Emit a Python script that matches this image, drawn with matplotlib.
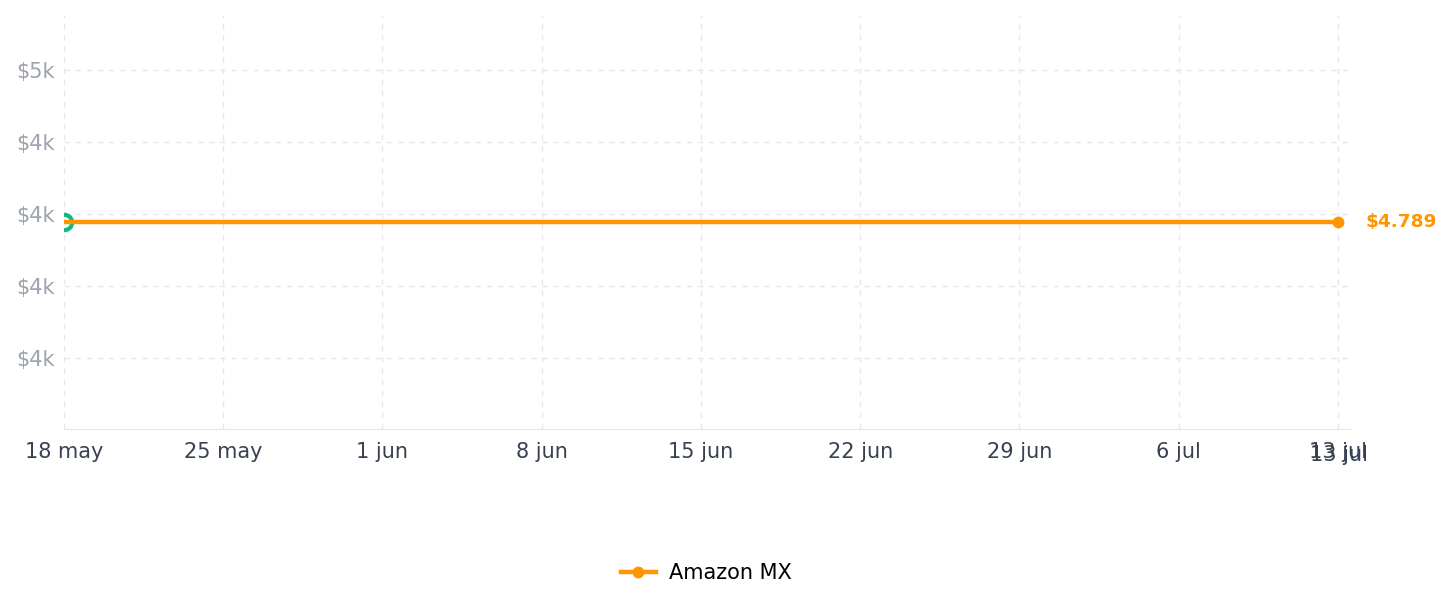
import matplotlib.pyplot as plt
import matplotlib.dates as mdates
import numpy as np
import pandas as pd

# price history (flat)
dates = pd.to_datetime(["2025-05-18", "2025-07-13"])
prices = [4789, 4789]
series_name = "Amazon MX"
tick_dates = pd.date_range("2025-05-18", "2025-07-13", freq="7D")
y_ticks = [4600, 4700, 4800, 4900, 5000]
months_es = {5: "may", 6: "jun", 7: "jul"}

orange = "#ff9500"
green = "#10b981"
grid_c = "#e5e7eb"

fig = plt.figure(figsize=(14.52, 6.07), dpi=100)
ax = fig.add_axes([64 / 1452, 1 - 429 / 607, (1350 - 64) / 1452, (429 - 15) / 607])

x = mdates.date2num(dates)
ax.plot(x, prices, color=orange, lw=3.2, zorder=3, solid_capstyle="butt", label=series_name)
ax.plot(x[-1], prices[-1], "o", color=orange, markersize=7.5, zorder=4, clip_on=False)
ax.plot(x[0], prices[0], "o", markerfacecolor="white", markeredgecolor=green,
        markersize=11, markeredgewidth=3, zorder=2)

ax.annotate(f"${prices[-1] / 1000:.3f}", (x[-1], prices[-1]), xytext=(20, 0),
            textcoords="offset points", color=orange, fontsize=13.3, fontweight="bold",
            va="center", ha="left", annotation_clip=False)

ax.set_xlim(x[0], x[-1] + 0.53)
ax.set_ylim(prices[0] * 0.94, prices[0] * 1.06)

ax.set_xticks(mdates.date2num(tick_dates))
ax.set_xticklabels([f"{d.day} {months_es[d.month]}" for d in tick_dates])
ax.set_yticks(y_ticks)
ax.set_yticklabels([f"${int(v // 1000)}k" for v in y_ticks])

# duplicated last label, slightly shifted
ax.annotate(f"{tick_dates[-1].day} {months_es[tick_dates[-1].month]}",
            (x[-1], 0), xycoords=("data", "axes fraction"), xytext=(1, -19),
            textcoords="offset points", ha="center", va="center",
            fontsize=15, color="#374151", annotation_clip=False)

ax.tick_params(axis="x", length=0, pad=9, labelsize=15, labelcolor="#374151")
ax.tick_params(axis="y", length=0, pad=7, labelsize=15, labelcolor="#9ca3af")
ax.grid(True, color=grid_c, ls=(0, (4, 4)), lw=1)
for s in ["top", "right", "left"]:
    ax.spines[s].set_visible(False)
ax.spines["bottom"].set_color(grid_c)

handle = plt.Line2D([], [], color=orange, lw=3.2, marker="o", markersize=7.5)
fig.legend([handle], [series_name], loc="center", bbox_to_anchor=(706 / 1452, 1 - 573 / 607),
           frameon=False, fontsize=15, handlelength=1.7, handletextpad=0.6)

fig.savefig("out.png", dpi=100)
